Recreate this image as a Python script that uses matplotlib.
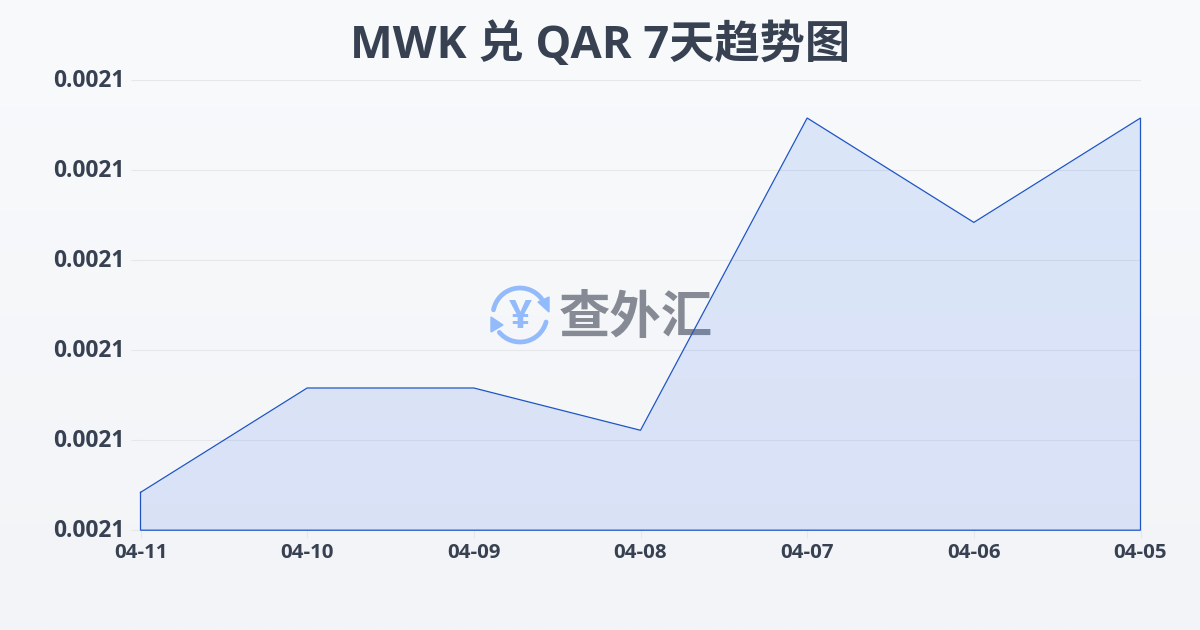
import numpy as np
import matplotlib
matplotlib.use('Agg')
import matplotlib.pyplot as plt
from matplotlib.patches import Arc, Polygon
from matplotlib.transforms import ScaledTranslation

plt.rcParams['font.family'] = ['Open Sans', 'Noto Sans CJK SC', 'DejaVu Sans']

dates = ['04-11', '04-10', '04-09', '04-08', '04-07', '04-06', '04-05']
rates = [0.0021042, 0.0021158, 0.0021158, 0.0021111, 0.0021458, 0.0021342, 0.0021458]
y_ticks = [0.00210, 0.00211, 0.00212, 0.00213, 0.00214, 0.00215]
y_labels = ['0.0021'] * 6
title = 'MWK 兑 QAR 7天趋势图'
watermark = '查外汇'

W, H = 1200, 630
TEXT = '#374151'
LINE = '#1e55c4'
FILL = '#2563eb'
LOGO = '#93bbfb'

fig = plt.figure(figsize=(W / 100, H / 100), dpi=100)

# background + watermark, in pixel coords
bg = fig.add_axes([0, 0, 1, 1], zorder=0)
grad = np.linspace(0, 1, 256).reshape(-1, 1)
c0 = np.array([0xf8, 0xfa, 0xfc]) / 255
c1 = np.array([0xf2, 0xf4, 0xf7]) / 255
bg.imshow(c0 + (c1 - c0) * grad[..., None], extent=[0, W, H, 0], aspect='auto')
bg.set_xlim(0, W)
bg.set_ylim(H, 0)
bg.axis('off')

# logo: two arrows round a yen sign
bg.add_patch(Arc((520, 315), 54, 54, theta1=191, theta2=323, color=LOGO, lw=3.4, capstyle='round'))
bg.add_patch(Arc((520, 315), 54, 54, theta1=15, theta2=140, color=LOGO, lw=3.4, capstyle='round'))
bg.add_patch(Polygon([(538, 302), (549, 297), (549, 312)], color=LOGO))
bg.add_patch(Polygon([(491, 317), (491, 332), (503, 325)], color=LOGO))
bg.text(520, 318, '¥', fontsize=29, fontweight='bold', color=LOGO, ha='center', va='center')
bg.text(636, 320, watermark, fontsize=37, fontweight='bold', color='#858a94', ha='center', va='center')

ax = fig.add_axes([140.5 / W, 1 - 530.2 / H, 1000 / W, 450 / H], zorder=1)
ax.patch.set_alpha(0)
x = np.arange(len(dates))
ax.fill_between(x, rates, y_ticks[0], color=FILL, alpha=0.125, lw=0)
ax.plot(list(x) + [x[-1], x[0], x[0]], rates + [y_ticks[0], y_ticks[0], rates[0]],
        color=LINE, lw=0.9, solid_joinstyle='miter', clip_on=False)

ax.set_xlim(0, 6)
ax.set_ylim(y_ticks[0], y_ticks[-1])
ax.set_xticks(x)
ax.set_xticklabels(dates, fontsize=14.7, fontweight='bold', color=TEXT)
ax.set_yticks(y_ticks)
ax.set_yticklabels(y_labels, fontsize=16.4, fontweight='bold', color=TEXT)
ax.tick_params(axis='x', length=6, width=0.8, color='#e5e7eb', pad=3)
ax.tick_params(axis='y', length=7, width=0.8, color='#e5e7eb', pad=4.3)
ax.grid(axis='y', color='#e5e7eb', lw=0.8)
ax.set_axisbelow(True)
for s in ax.spines.values():
    s.set_visible(False)

# y labels sit a little above their grid lines
up = ScaledTranslation(0, 1.5 / 72, fig.dpi_scale_trans)
for lab in ax.get_yticklabels():
    lab.set_transform(lab.get_transform() + up)

fig.text(600 / W, 1 - 46 / H, title, fontsize=32.6, fontweight='bold', color=TEXT, ha='center', va='center')

fig.savefig('out.png', dpi=100)
